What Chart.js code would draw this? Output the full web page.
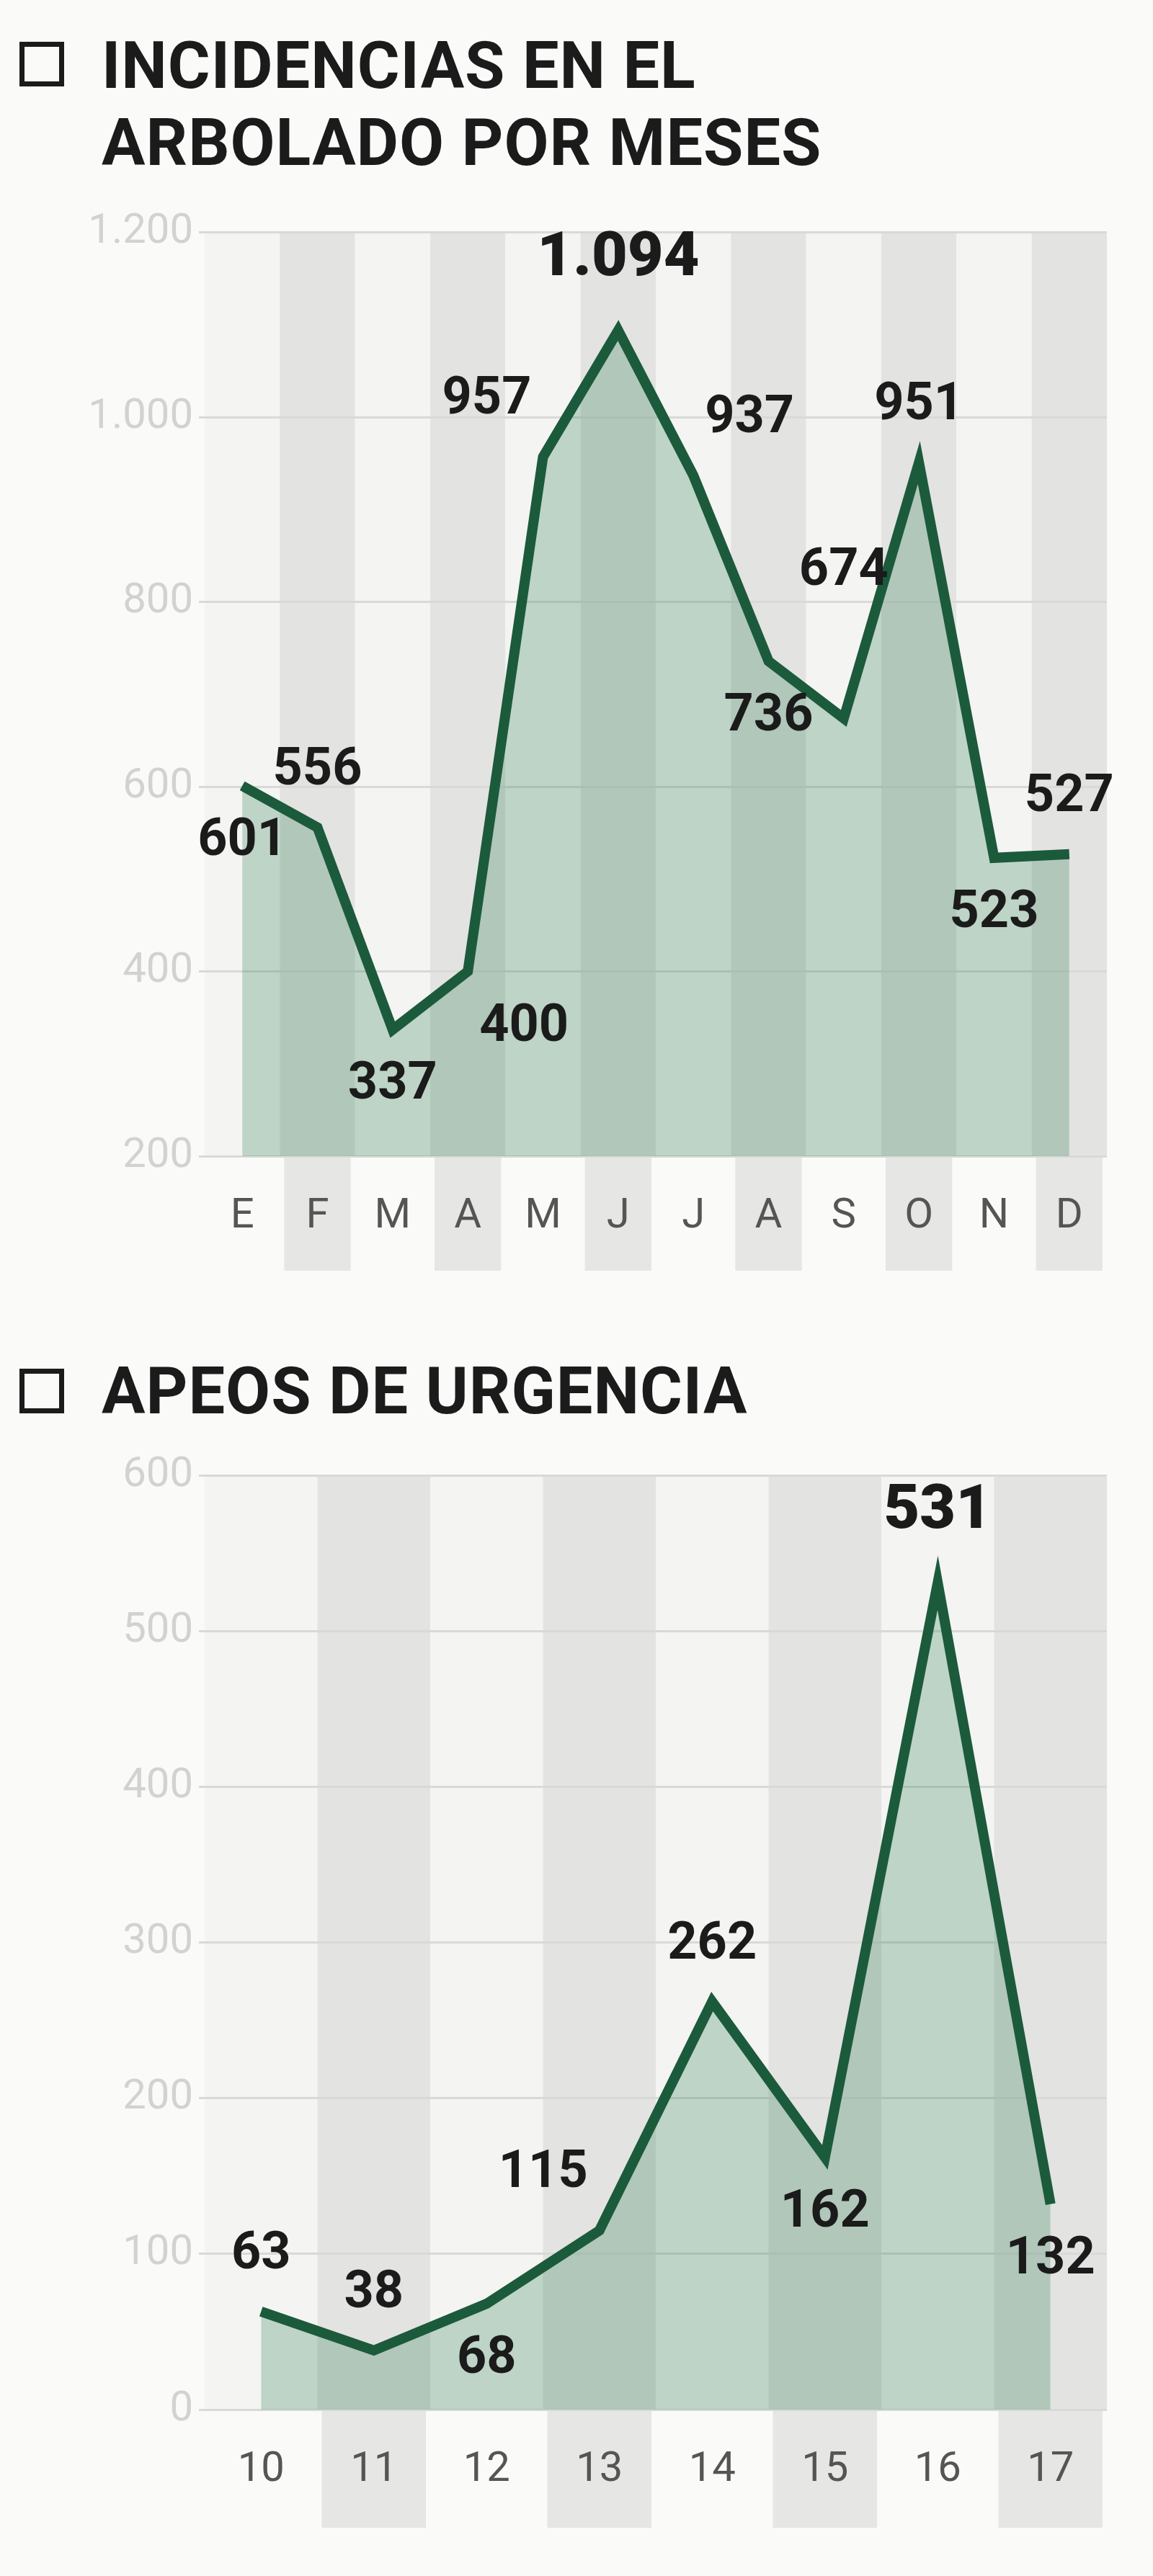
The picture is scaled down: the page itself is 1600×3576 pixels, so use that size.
<!DOCTYPE html>
<html><head><meta charset="utf-8">
<script src="https://cdn.jsdelivr.net/npm/chart.js@4/dist/chart.umd.min.js"></script>
<style>
body{margin:0;width:1600px;height:3576px;background:#fafaf9;position:relative;font-family:Roboto,sans-serif;overflow:hidden}
.t{position:absolute;left:141px;font-weight:700;font-size:90px;line-height:107px;color:#1b1b1b;letter-spacing:1px}
.box{position:absolute;left:27px;width:62px;height:62px;border:7px solid #1b1b1b;box-sizing:border-box}
canvas{position:absolute;left:0}
</style></head><body>
<div class="box" style="top:58px"></div>
<div class="t" style="top:38px">INCIDENCIAS EN EL<br>ARBOLADO POR MESES</div>
<div class="box" style="top:1900px"></div>
<div class="t" style="top:1878px">APEOS DE URGENCIA</div>
<div style="position:absolute;left:0;top:280px;width:1600px;height:1500px"><canvas id="c1"></canvas></div>
<div style="position:absolute;left:0;top:2000px;width:1600px;height:1520px"><canvas id="c2"></canvas></div>
<script>
// Incidencias por meses
const months = ["E","F","M","A","M","J","J","A","S","O","N","D"];
const incidencias = [601,556,337,400,957,1094,937,736,674,951,523,527];
const incLabelPos = ["b","t","b","br","tl","t","tr","b","tt","t","b","t"];
// Apeos de urgencia
const years = ["10","11","12","13","14","15","16","17"];
const apeos = [63,38,68,115,262,162,531,132];
const apeosLabelPos = ["t","t","b","tl","t","b","t","b"];

const green = "#1c5a3c";

const bands = {
  id: "bands",
  beforeDraw(chart, args, opts) {
    const {ctx, chartArea: a} = chart;
    const n = chart.data.labels.length, w = (a.right - a.left) / n;
    ctx.save();
    for (let i = 0; i < n; i++) {
      const l = a.left + i * w;
      if (i % 2) {
        ctx.fillStyle = "#e3e3e1";
        ctx.fillRect(l, a.top, w, a.bottom - a.top);
        ctx.fillStyle = "#e6e6e4";
        ctx.fillRect(l + 6, a.bottom, w - 12, opts.ext);
      } else {
        ctx.fillStyle = "#f4f4f2";
        ctx.fillRect(l, a.top, w, a.bottom - a.top);
      }
    }
    ctx.restore();
  }
};

const labels = {
  id: "labels",
  afterDatasetsDraw(chart, args, opts) {
    const {ctx} = chart;
    const meta = chart.getDatasetMeta(0);
    const vals = chart.data.datasets[0].data;
    const max = Math.max(...vals);
    ctx.save();
    ctx.fillStyle = "#1b1b1b";
    ctx.textAlign = "center";
    ctx.textBaseline = "middle";
    meta.data.forEach((p, i) => {
      const big = vals[i] === max;
      ctx.font = (big ? "900 " + opts.big : "700 " + opts.size) + "px Roboto";
      let dx = 0, dy = 0;
      const pos = opts.pos[i], d = opts.d;
      if (pos.includes("t")) dy = -d;
      if (pos === "tt") dy = -d * 2.6;
      if (pos.includes("b")) dy = d;
      if (pos.includes("l")) dx = -d;
      if (pos.includes("r")) dx = d;
      if (big) dy -= 20;
      ctx.fillText(opts.fmt(vals[i]), p.x + dx, p.y + dy);
    });
    ctx.restore();
  }
};

function make(id, labs, data, pos, min, max, step, padTop, ext, fmt) {
  new Chart(document.getElementById(id), {
    type: "line",
    data: {labels: labs, datasets: [{
      data: data, borderColor: green, borderWidth: 14, tension: 0,
      pointRadius: 0, fill: "start", backgroundColor: "rgba(40,125,80,0.27)",
      borderJoinStyle: "miter"
    }]},
    options: {
      responsive: true, maintainAspectRatio: false, animation: false,
      layout: {padding: {top: padTop, right: 64, left: 0, bottom: 0}},
      plugins: {legend: {display: false}, tooltip: {enabled: false},
        bands: {ext: ext},
        labels: {pos: pos, size: 72, big: 86, d: 78, fmt: fmt}},
      scales: {
        x: {offset: true, grid: {display: false}, border: {display: false},
          ticks: {color: "#555", font: {size: 58, family: "Roboto"}, padding: 42},
          afterFit: s => { s.height = 175; }},
        y: {min: min, max: max, grid: {color: "#d9d9d7", lineWidth: 3}, border: {display: false},
          ticks: {stepSize: step, color: "#d2d2d0", font: {size: 58, family: "Roboto"}, padding: 8,
            callback: v => fmt(v)},
          afterFit: s => { s.width = 284; }}
      }
    },
    plugins: [bands, labels]
  });
}

const fmt = v => v.toLocaleString("de-DE");
make("c1", months, incidencias, incLabelPos, 200, 1200, 200, 39, 159, fmt);
make("c2", years, apeos, apeosLabelPos, 0, 600, 100, 48, 164, fmt);
</script>
</body></html>
